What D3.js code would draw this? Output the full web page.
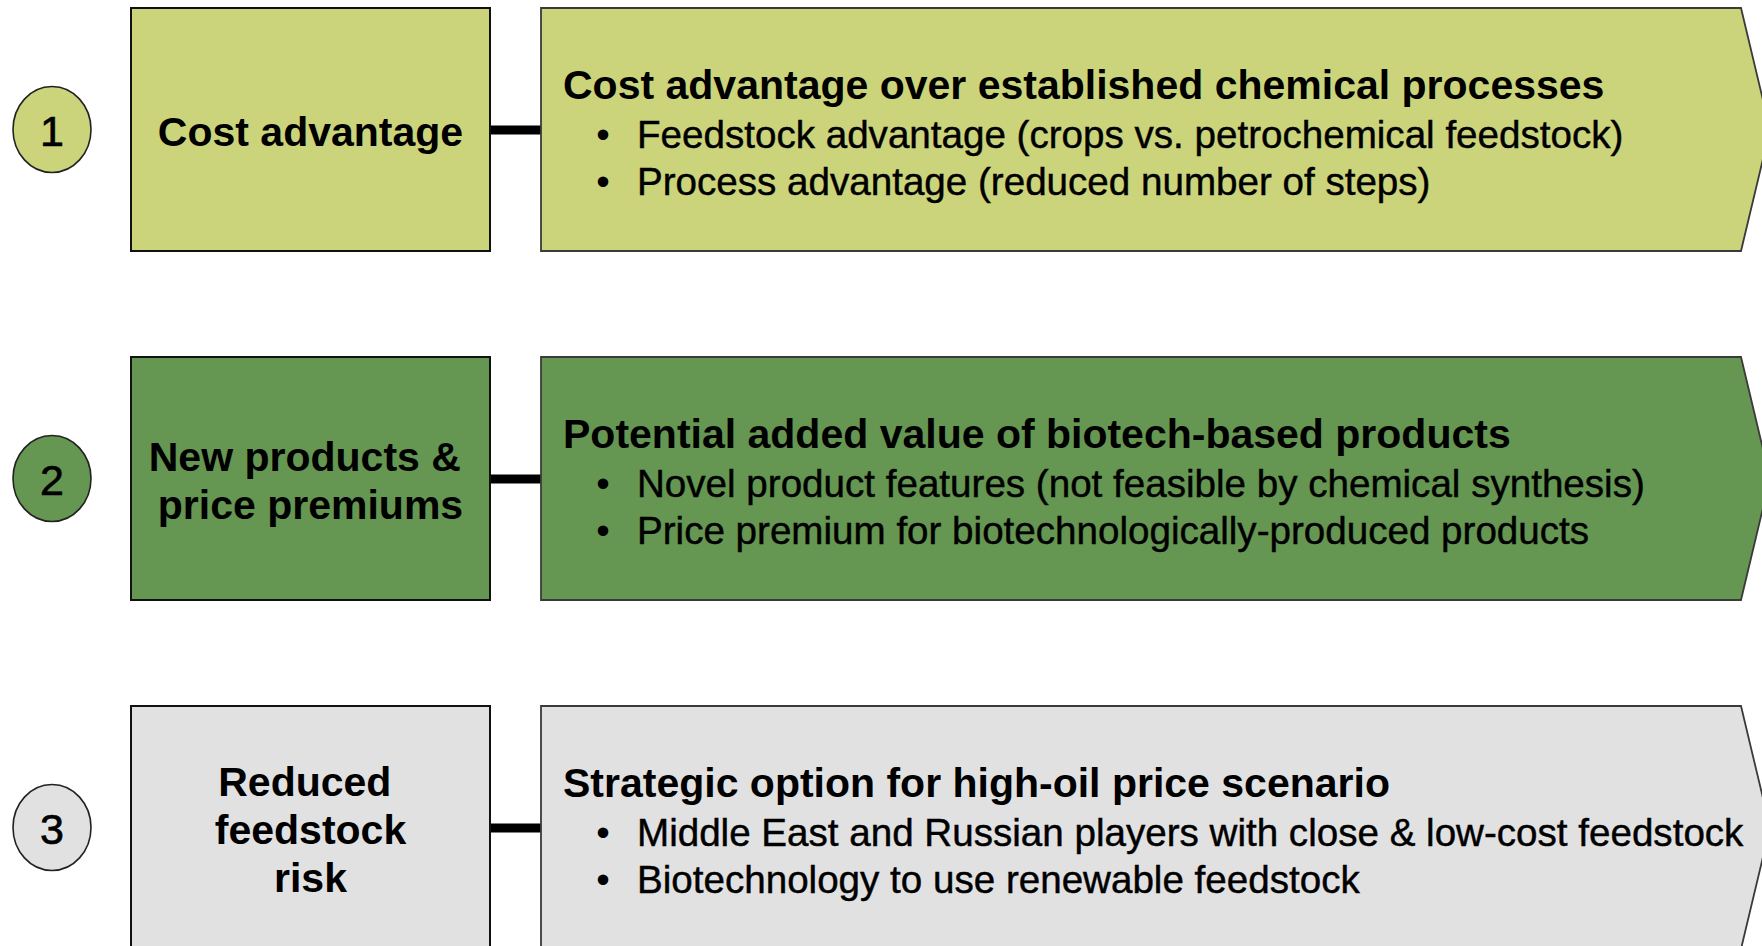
<!DOCTYPE html>
<html>
<head>
<meta charset="utf-8">
<script src="https://cdn.jsdelivr.net/npm/d3@7"></script>
<style>
  html, body { margin: 0; padding: 0; background: #ffffff; overflow: hidden; }
  svg { display: block; font-family: "Liberation Sans", Arial, sans-serif; }
</style>
</head>
<body>
<svg id="chart"></svg>
<script>
// ─── DATA ─────────────────────────────────────
const ROW_NUMBERS = ["1", "2", "3"];

const DRIVER_LABELS = [
  ["Cost advantage"],
  ["New products & ", "price premiums"],
  ["Reduced ", "feedstock", "risk"]
];

const DETAIL_TITLES = [
  "Cost advantage over established chemical processes",
  "Potential added value of biotech-based products",
  "Strategic option for high-oil price scenario"
];

const DETAIL_BULLETS = [
  ["Feedstock advantage (crops vs. petrochemical feedstock)",
   "Process advantage (reduced number of steps)"],
  ["Novel product features (not feasible by chemical synthesis)",
   "Price premium for biotechnologically-produced products"],
  ["Middle East and Russian players with close & low-cost feedstock",
   "Biotechnology to use renewable feedstock"]
];

const ROW_FILLS = ["#cbd47b", "#659652", "#e1e1e1"];

// ─── LAYOUT ───────────────────────────────────
const W = 1762, H = 946;
const ROW_H = 243;

const svg = d3.select("#chart").attr("width", W).attr("height", H);

// row index -> top edge of the row
const rowY = d3.scaleLinear().domain([0, 1]).range([8, 357]);

const circleX = 52, circleRx = 39, circleRy = 43;
const boxX = 131, boxW = 359;
const arrowX = 541, arrowCorner = 1741, arrowTip = 1770;

const rows = ROW_NUMBERS.map((n, i) => ({
  num: n,
  label: DRIVER_LABELS[i],
  title: DETAIL_TITLES[i],
  bullets: DETAIL_BULLETS[i],
  fill: ROW_FILLS[i],
  top: rowY(i)
}));

const g = svg.selectAll("g.row")
  .data(rows)
  .join("g")
    .attr("class", "row")
    .attr("transform", d => `translate(0,${d.top})`);

const mid = ROW_H / 2;

// connector bar
g.append("rect")
  .attr("x", boxX + boxW)
  .attr("y", mid - 4)
  .attr("width", arrowX - boxX - boxW)
  .attr("height", 9)
  .attr("fill", "#000");

// numbered ellipse
g.append("ellipse")
  .attr("cx", circleX).attr("cy", mid)
  .attr("rx", circleRx).attr("ry", circleRy)
  .attr("fill", d => d.fill)
  .attr("stroke", "#222")
  .attr("stroke-width", 1.6);

g.append("text")
  .attr("x", circleX)
  .attr("y", mid + 16)
  .attr("text-anchor", "middle")
  .attr("font-size", 43)
  .attr("fill", "#000")
  .attr("stroke", "#000")
  .attr("stroke-width", 0.7)
  .text(d => d.num);

// left driver box
g.append("rect")
  .attr("x", boxX).attr("y", 0)
  .attr("width", boxW).attr("height", ROW_H)
  .attr("fill", d => d.fill)
  .attr("stroke", "#111")
  .attr("stroke-width", 2);

const lh = 48, capH = 30;
g.append("text")
  .attr("text-anchor", "middle")
  .attr("font-size", 41)
  .attr("font-weight", "bold")
  .attr("fill", "#000")
  .style("white-space", "pre")
  .each(function(d) {
    const n = d.label.length;
    const y0 = mid + capH / 2 + 1 - (n - 1) * lh / 2;
    d3.select(this).selectAll("tspan")
      .data(d.label)
      .join("tspan")
        .attr("x", boxX + boxW / 2)
        .attr("y", (s, k) => y0 + k * lh)
        .text(s => s);
  });

// right detail chevron
g.append("path")
  .attr("d", `M${arrowX},0 L${arrowCorner},0 L${arrowTip},${mid} L${arrowCorner},${ROW_H} L${arrowX},${ROW_H} Z`)
  .attr("fill", d => d.fill)
  .attr("stroke", "#3a3a3a")
  .attr("stroke-width", 1.8);

g.append("text")
  .attr("x", 563)
  .attr("y", 91)
  .attr("font-size", 41)
  .attr("font-weight", "bold")
  .attr("fill", "#000")
  .text(d => d.title);

const bullet = g.selectAll("g.bullet")
  .data(d => d.bullets)
  .join("g")
    .attr("class", "bullet")
    .attr("transform", (s, k) => `translate(0,${140 + k * 47})`);

bullet.append("text")
  .attr("x", 603)
  .attr("text-anchor", "middle")
  .attr("font-size", 38.6)
  .attr("fill", "#000")
  .text("•");

bullet.append("text")
  .attr("x", 637)
  .attr("font-size", 38.6)
  .attr("fill", "#000")
  .attr("stroke", "#000")
  .attr("stroke-width", 0.45)
  .text(s => s);
</script>
</body>
</html>
